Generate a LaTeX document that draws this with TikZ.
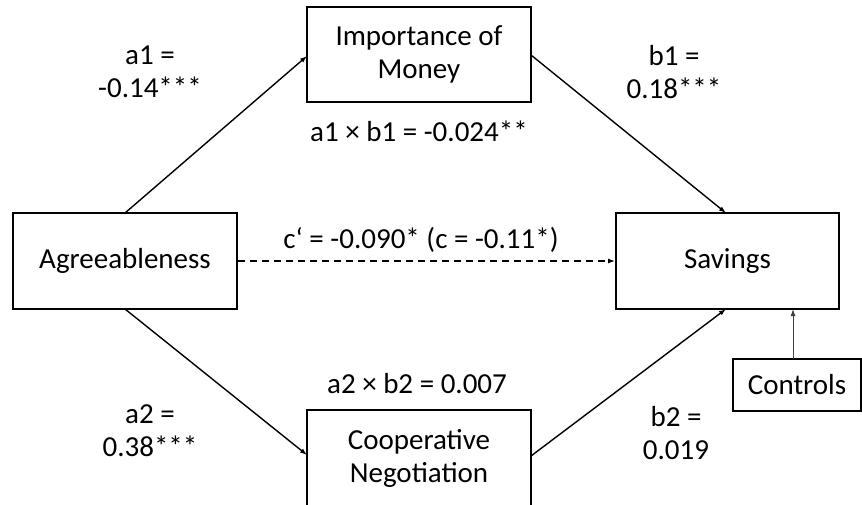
\documentclass[tikz,border=0pt]{standalone}
\usepackage{fontspec}
\setmainfont{Carlito}
\usetikzlibrary{arrows.meta}
\begin{document}
\begin{tikzpicture}[x=1pt,y=-1pt,
  every node/.style={font=\fontsize{29}{33}\selectfont, align=center, inner sep=0pt},
  box/.style={draw, line width=1.8pt, minimum width=224pt, minimum height=96pt},
  arr/.style={line width=1.4pt, -{Latex[length=7pt,width=5pt]}},
  thinarr/.style={line width=0.9pt, draw=black!75, -{Latex[length=7pt,width=5pt]}}]
\useasboundingbox (0,0) rectangle (862,504);
\clip (0,0) rectangle (862,504);
\fill[white] (0,0) rectangle (862,504);
% boxes
\node[box, minimum height=95pt] (imp) at (419,54.5) {Importance of\\Money};
\node[box] (agr) at (125,261) {Agreeableness};
\node[box, minimum width=223pt] (sav) at (727.5,261) {Savings};
\node[box] (coop) at (419,458) {Cooperative\\Negotiation};
\node[box, minimum width=128pt, minimum height=52pt] (ctrl) at (797,385) {Controls};
% connection points
\coordinate (agrT) at (125,213);
\coordinate (agrB) at (125,309);
\coordinate (impL) at (307,56);
\coordinate (impR) at (531,55);
\coordinate (coopL) at (307,455);
\coordinate (coopR) at (531,456);
\coordinate (savT) at (726,213);
\coordinate (savB) at (726,309);
\coordinate (savB2) at (793,309);
\coordinate (ctrlT) at (793,359);
% arrows
\draw[arr] (agrT) -- (impL);
\draw[arr] (agrB) -- (coopL);
\draw[arr] (impR) -- (savT);
\draw[arr] (coopR) -- (savB);
\draw[arr, dashed, dash pattern=on 7pt off 5pt] (agr.east) -- (sav.west);
\draw[thinarr] (ctrlT) -- (savB2);
% labels
\node (la1) at (150,72) {a1 =\\-0.14***};
\node (lb1) at (674,72) {b1 =\\0.18***};
\node (lab1) at (419,131) {a1 × b1 = -0.024**};
\node (lc) at (421,240) {c‘ = -0.090* (c = -0.11*)};
\node (lab2) at (417,384) {a2 × b2 = 0.007};
\node (la2) at (150,431) {a2 =\\0.38***};
\node (lb2) at (676,433) {b2 =\\0.019};
\end{tikzpicture}
\end{document}
